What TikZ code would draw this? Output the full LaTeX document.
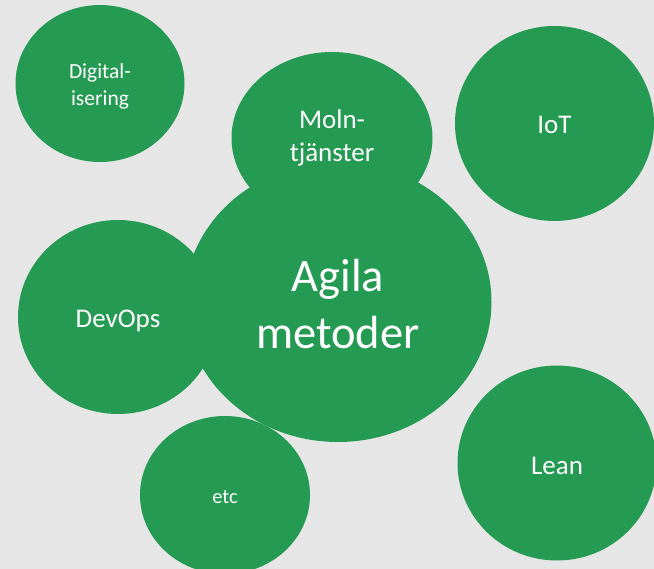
\documentclass[tikz,border=0pt]{standalone}
\usepackage{fontspec}
\setmainfont{Carlito}
\usetikzlibrary{shapes.geometric}
\definecolor{bg}{HTML}{E7E6E6}
\definecolor{grn}{HTML}{259A52}
\tikzset{
  bubble/.style={ellipse, fill=grn, draw=none, inner sep=0pt},
  lbl/.style={text=white, align=center, inner sep=0pt},
}
\begin{document}
\begin{tikzpicture}[x=1pt,y=-1pt]
\useasboundingbox (0,0) rectangle (654,569);
\fill[bg] (0,0) rectangle (654,569);
\node[bubble, minimum width=169pt, minimum height=157pt] (dig) at (100,83.5) {};
\node[bubble, minimum width=199pt, minimum height=195pt] (iot) at (554.5,123.5) {};
\node[bubble, minimum width=199pt, minimum height=195pt] (lean) at (557,463) {};
\node[bubble, minimum width=170pt, minimum height=158pt] (etc) at (225,495) {};
\node[bubble, minimum width=200pt, minimum height=194pt] (devops) at (118,317) {};
\node[bubble, minimum width=307pt, minimum height=280pt] (agila) at (338,302) {};
\node[bubble, minimum width=201pt, minimum height=172pt] (moln) at (332,138) {};
\node[lbl, font=\fontsize{21.5}{26.7}\selectfont] (digt) at ([yshift=-3pt]dig.center) {Digital-\\isering};
\node[lbl, font=\fontsize{27}{33}\selectfont] (iott) at ([yshift=-1.5pt]iot.center) {IoT};
\node[lbl, font=\fontsize{27}{33}\selectfont] (leant) at ([yshift=-3pt]lean.center) {Lean};
\node[lbl, font=\fontsize{20.5}{25}\selectfont] (etct) at ([yshift=-2pt]etc.center) {etc};
\node[lbl, font=\fontsize{27}{33}\selectfont] (devopst) at ([yshift=-4pt]devops.center) {DevOps};
\node[lbl, font=\fontsize{46.5}{57}\selectfont] (agilat) at ([yshift=-2pt]agila.center) {Agila\\metoder};
\node[lbl, font=\fontsize{27}{33}\selectfont] (molnt) at (moln.center) {Moln-\\tjänster};
\end{tikzpicture}
\end{document}
